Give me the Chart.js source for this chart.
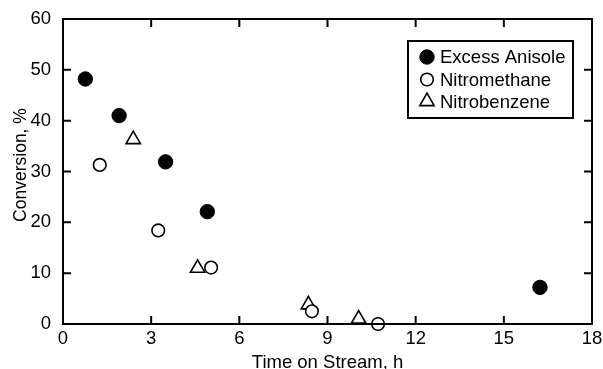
<!DOCTYPE html>
<html>
<head>
<meta charset="utf-8">
<script src="https://cdn.jsdelivr.net/npm/chart.js@4/dist/chart.umd.min.js"></script>
<style>
  html, body { margin: 0; padding: 0; background: #fff; }
  canvas { display: block; }
</style>
</head>
<body>
<canvas id="chart" width="603" height="369"></canvas>
<script>
'use strict';

// ─── Data ─────────────────────────────────────────────────────────────────────
const anisoleX = [0.76, 1.91, 3.49, 4.91, 16.23];
const anisoleY = [48.2, 41.0, 31.9, 22.1, 7.2];

const nitromethaneX = [1.25, 3.24, 5.04, 8.47, 10.72];
const nitromethaneY = [31.3, 18.4, 11.1, 2.5, 0.0];

const nitrobenzeneX = [2.39, 4.58, 8.35, 10.06];
const nitrobenzeneY = [36.3, 11.0, 3.8, 1.0];

const xTicks = [0, 3, 6, 9, 12, 15, 18];
const yTicks = [0, 10, 20, 30, 40, 50, 60];

const Y_TITLE = 'Conversion, %';
const X_TITLE = 'Time on Stream, h';

const FONT = '"Liberation Sans", Arial, Helvetica, sans-serif';
const FSIZE = 18.5;

function toPoints(xs, ys) {
  return xs.map((x, i) => ({ x, y: ys[i] }));
}

// ─── Frame, inward ticks, y title and boxed legend ────────────────────────────
const framePlugin = {
  id: 'frame',
  afterDraw(chart) {
    const { ctx, chartArea: a, scales } = chart;
    const tick = 8;
    ctx.save();
    ctx.strokeStyle = '#000';
    ctx.lineWidth = 2;
    ctx.strokeRect(a.left, a.top, a.right - a.left, a.bottom - a.top);

    ctx.beginPath();
    xTicks.slice(1, -1).forEach((v) => {
      const px = scales.x.getPixelForValue(v);
      ctx.moveTo(px, a.bottom); ctx.lineTo(px, a.bottom - tick);
      ctx.moveTo(px, a.top);    ctx.lineTo(px, a.top + tick);
    });
    yTicks.slice(1, -1).forEach((v) => {
      const py = scales.y.getPixelForValue(v);
      ctx.moveTo(a.left, py);  ctx.lineTo(a.left + tick, py);
      ctx.moveTo(a.right, py); ctx.lineTo(a.right - tick, py);
    });
    ctx.stroke();

    // y title, a bit above the middle as in the original
    ctx.save();
    ctx.translate(21, 165);
    ctx.rotate(-Math.PI / 2);
    ctx.font = '17.5px ' + FONT;
    ctx.fillStyle = '#000';
    ctx.textAlign = 'center';
    ctx.textBaseline = 'middle';
    ctx.fillText(Y_TITLE, 0, 0);
    ctx.restore();

    // legend box
    const box = { x: 408, y: 41, w: 165, h: 77 };
    ctx.fillStyle = '#fff';
    ctx.fillRect(box.x, box.y, box.w, box.h);
    ctx.strokeRect(box.x, box.y, box.w, box.h);

    const rows = [57, 79.5, 101.5];
    ctx.font = FSIZE + 'px ' + FONT;
    ctx.textBaseline = 'middle';
    ctx.textAlign = 'left';
    chart.data.datasets.forEach((ds, i) => {
      const cy = rows[i];
      ctx.lineWidth = ds.borderWidth;
      ctx.strokeStyle = ds.borderColor;
      ctx.fillStyle = ds.backgroundColor;
      Chart.helpers.drawPoint(ctx, {
        pointStyle: ds.pointStyle,
        radius: ds.pointRadius,
        borderWidth: ds.borderWidth,
        rotation: 0,
      }, 427, cy);
      ctx.fillStyle = '#000';
      ctx.fillText(ds.label, 440, cy + 1);
    });
    ctx.restore();
  },
};

// ─── Chart ────────────────────────────────────────────────────────────────────
new Chart(document.getElementById('chart').getContext('2d'), {
  type: 'scatter',
  data: {
    datasets: [
      {
        label:           'Excess Anisole',
        data:            toPoints(anisoleX, anisoleY),
        pointStyle:      'circle',
        pointRadius:     7.2,
        borderWidth:     1,
        backgroundColor: '#000',
        borderColor:     '#000',
      },
      {
        label:           'Nitromethane',
        data:            toPoints(nitromethaneX, nitromethaneY),
        pointStyle:      'circle',
        pointRadius:     6.3,
        borderWidth:     1.6,
        backgroundColor: '#fff',
        borderColor:     '#000',
      },
      {
        label:           'Nitrobenzene',
        data:            toPoints(nitrobenzeneX, nitrobenzeneY),
        pointStyle:      'triangle',
        pointRadius:     8.3,
        borderWidth:     1.6,
        backgroundColor: '#fff',
        borderColor:     '#000',
      },
    ],
  },
  options: {
    responsive: false,
    animation:  false,
    clip:       false,
    layout: { padding: { left: 0, top: 19, right: 11, bottom: 0 } },
    plugins: {
      legend:  { display: false },
      tooltip: { enabled: false },
    },
    scales: {
      x: {
        type: 'linear',
        min: 0,
        max: 18,
        afterFit: (s) => { s.height = 45; },
        afterBuildTicks: (s) => { s.ticks = xTicks.map((v) => ({ value: v })); },
        grid:   { display: false },
        border: { display: false },
        ticks:  { color: '#000', padding: -4, font: { family: FONT, size: FSIZE } },
        title: {
          display: true,
          text:    X_TITLE,
          color:   '#000',
          padding: { top: 0, bottom: -5 },
          font:    { family: FONT, size: FSIZE },
        },
      },
      y: {
        type: 'linear',
        min: 0,
        max: 60,
        afterFit: (s) => { s.width = 63; },
        afterBuildTicks: (s) => { s.ticks = yTicks.map((v) => ({ value: v })); },
        grid:   { display: false },
        border: { display: false },
        ticks:  { color: '#000', padding: 4, font: { family: FONT, size: FSIZE } },
        title:  { display: false },
      },
    },
  },
  plugins: [framePlugin],
});
</script>
</body>
</html>
